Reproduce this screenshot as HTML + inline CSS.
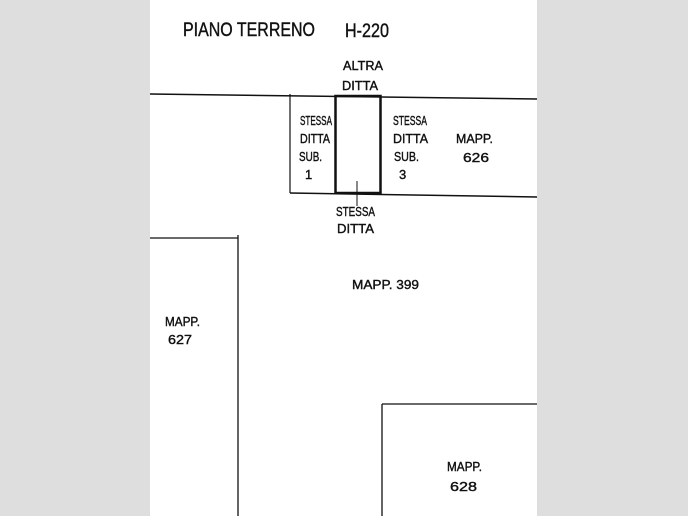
<!DOCTYPE html>
<html><head><meta charset="utf-8"><style>
html,body{margin:0;padding:0;}
body{width:688px;height:516px;background:#dedede;position:relative;overflow:hidden;}
.page{position:absolute;left:150px;top:0;width:387px;height:516px;background:#fff;}
svg{position:absolute;left:0;top:0;}
text{font-family:"Liberation Sans Narrow","Liberation Sans",sans-serif;fill:#111;stroke:#111;stroke-width:0.4;}
</style></head><body>
<div class="page"></div>
<svg width="688" height="516" viewBox="0 0 688 516">
<g stroke="#111" fill="none">
<line x1="150" y1="94" x2="537" y2="99" stroke-width="1.5"/>
<line x1="290" y1="193" x2="537" y2="197" stroke-width="1.5"/>
<line x1="290" y1="94" x2="290" y2="193" stroke-width="1.2"/>
<rect x="335.5" y="96" width="45" height="97" stroke-width="2.5"/>
<line x1="357" y1="181" x2="357" y2="206" stroke-width="1"/>
<line x1="150" y1="238" x2="238" y2="238" stroke-width="1.3"/>
<line x1="238" y1="235" x2="238" y2="516" stroke-width="1.3"/>
<line x1="382" y1="404" x2="537" y2="404" stroke-width="1.3"/>
<line x1="382" y1="404" x2="382" y2="516" stroke-width="1.3"/>
</g>
<g font-size="19">
<text x="183" y="36" textLength="132" lengthAdjust="spacingAndGlyphs">PIANO TERRENO</text>
<text x="345" y="37" textLength="44" lengthAdjust="spacingAndGlyphs">H-220</text>
</g>
<g font-size="13">
<text x="343" y="70" textLength="40" lengthAdjust="spacingAndGlyphs">ALTRA</text>
<text x="342" y="90" textLength="36" lengthAdjust="spacingAndGlyphs">DITTA</text>
<text x="300" y="125" textLength="32" lengthAdjust="spacingAndGlyphs">STESSA</text>
<text x="300" y="143" textLength="30" lengthAdjust="spacingAndGlyphs">DITTA</text>
<text x="299" y="161" textLength="23" lengthAdjust="spacingAndGlyphs">SUB.</text>
<text x="305" y="179">1</text>
<text x="393" y="125" textLength="34" lengthAdjust="spacingAndGlyphs">STESSA</text>
<text x="393" y="143" textLength="35" lengthAdjust="spacingAndGlyphs">DITTA</text>
<text x="394" y="161" textLength="25" lengthAdjust="spacingAndGlyphs">SUB.</text>
<text x="399" y="179">3</text>
<text x="456" y="143" textLength="37" lengthAdjust="spacingAndGlyphs">MAPP.</text>
<text x="463" y="162" textLength="26" lengthAdjust="spacingAndGlyphs">626</text>
<text x="336" y="216" textLength="39" lengthAdjust="spacingAndGlyphs">STESSA</text>
<text x="337" y="233" textLength="37" lengthAdjust="spacingAndGlyphs">DITTA</text>
<text x="352" y="289" textLength="67" lengthAdjust="spacingAndGlyphs">MAPP. 399</text>
<text x="165" y="326" textLength="35" lengthAdjust="spacingAndGlyphs">MAPP.</text>
<text x="168" y="344" textLength="24" lengthAdjust="spacingAndGlyphs">627</text>
<text x="447" y="471" textLength="35" lengthAdjust="spacingAndGlyphs">MAPP.</text>
<text x="450" y="491" textLength="27" lengthAdjust="spacingAndGlyphs">628</text>
</g>
</svg>
</body></html>
